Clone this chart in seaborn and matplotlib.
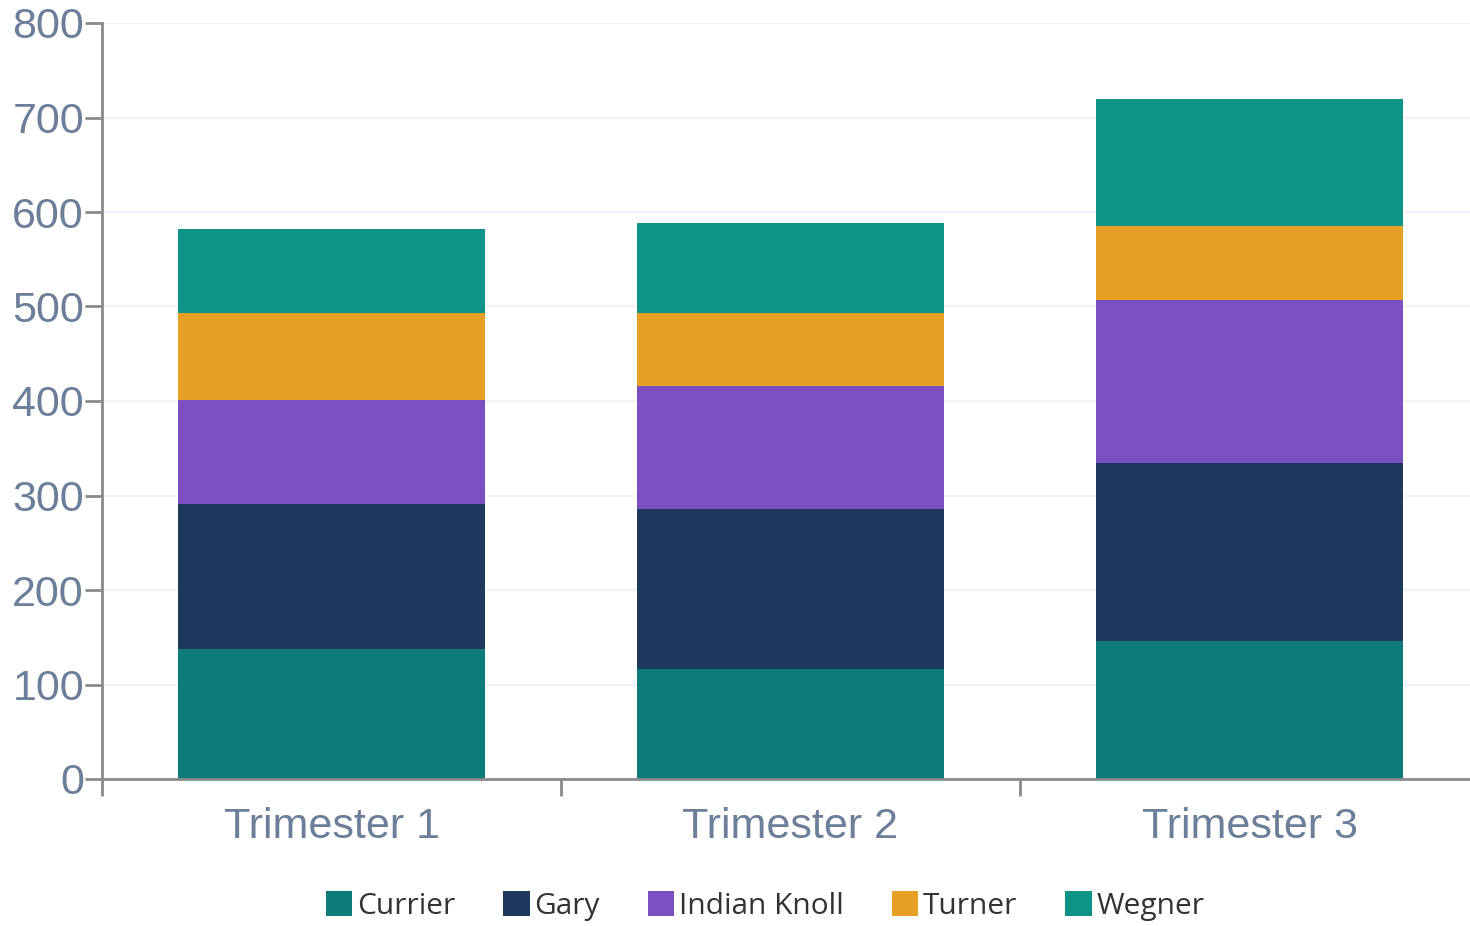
import pandas as pd
import seaborn as sns
import matplotlib.pyplot as plt
import numpy as np
from matplotlib.patches import Patch

trimesters = ['Trimester 1', 'Trimester 2', 'Trimester 3']
sites = ['Currier', 'Gary', 'Indian Knoll', 'Turner', 'Wegner']
currier = [138, 116, 146]
gary = [153, 170, 188]
indian_knoll = [110, 130, 173]
turner = [92, 77, 78]
wegner = [89, 95, 135]
colors = ['#0e7b7b', '#1b3a5c', '#7c4fc0', '#e6a023', '#0e9486']

df = pd.DataFrame({'trimester': trimesters, 'Currier': currier, 'Gary': gary,
                   'Indian Knoll': indian_knoll, 'Turner': turner, 'Wegner': wegner})
# cumulative tops for stacking
cum = df[sites].cumsum(axis=1)
cum['trimester'] = df['trimester']

sns.set_style('white')
fig = plt.figure(figsize=(14.7, 9.26), dpi=100)
ax = fig.add_axes([102 / 1470, 147 / 926, 1377 / 1470, 756 / 926])

# draw from the top layer down so lower layers cover the upper ones
for site, col in reversed(list(zip(sites, colors))):
    sns.barplot(data=cum, x='trimester', y=site, color=col, width=0.667,
                saturation=1, edgecolor='none', ax=ax)

ax.set_xlim(-0.5, 2.5)
ax.set_ylim(0, 800)
ax.set_yticks(range(0, 801, 100))
ax.set_xlabel('')
ax.set_ylabel('')
ax.grid(axis='y', color='#eef0f6', linewidth=1.2)
ax.set_axisbelow(True)

for s in ['top', 'right']:
    ax.spines[s].set_visible(False)
for s in ['left', 'bottom']:
    ax.spines[s].set_color('#8a8a8a')
    ax.spines[s].set_linewidth(2)

tick_color = '#6b7f99'
ax.tick_params(axis='y', length=12, width=2, color='#8a8a8a', labelsize=31,
               labelcolor=tick_color, pad=1, left=True)
ax.tick_params(axis='x', which='major', length=0, labelsize=31,
               labelcolor=tick_color, pad=20)
ax.set_xticks([-0.5, 0.5, 1.5], minor=True)
ax.tick_params(axis='x', which='minor', length=12, width=2, color='#8a8a8a',
               bottom=True, direction='out')
for lbl in ax.get_xticklabels() + ax.get_yticklabels():
    lbl.set_family(['Liberation Sans', 'DejaVu Sans'])

handles = [Patch(facecolor=c, edgecolor='none', label=s) for s, c in zip(sites, colors)]
fig.legend(handles=handles, loc='center', bbox_to_anchor=(765 / 1470, 1 - 906 / 926),
           ncol=5, frameon=False, handlelength=0.9, handleheight=0.9,
           handletextpad=0.15, columnspacing=1.6,
           prop={'family': ['Open Sans', 'DejaVu Sans'], 'size': 21.5},
           labelcolor='#333333')

fig.savefig('out.png', dpi=100)
